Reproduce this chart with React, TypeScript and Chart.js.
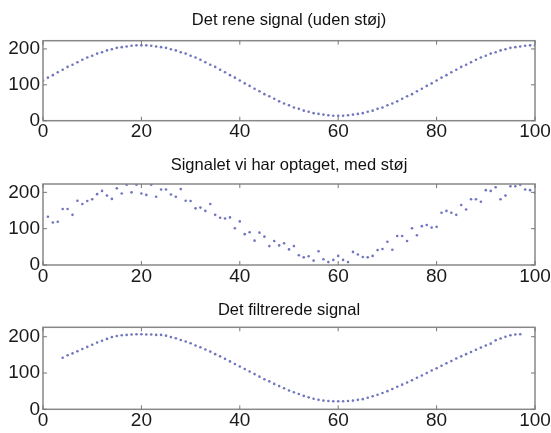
import React, { useEffect, useRef } from "react";
import { Chart, registerables } from "chart.js";

Chart.register(...registerables);

// ---------- data ----------
const xTicks = [0, 20, 40, 60, 80, 100];
const yTicks = [0, 100, 200];
const titles = [
  "Det rene signal (uden støj)",
  "Signalet vi har optaget, med støj",
  "Det filtrerede signal",
];
const yMax = [223, 223, 226];

const cleanStart = 0;
const clean = [
  112, 120, 127, 135, 142, 150, 156, 163, 170, 176, 181, 187, 191, 196, 199, 203, 205, 207, 209, 210, 210,
  210, 209, 207, 205, 203, 199, 196, 191, 187, 181, 176, 170, 163, 156, 150, 142, 135, 127, 120, 112,
  104, 97, 89, 82, 74, 68, 61, 54, 48, 43, 37, 33, 28, 25, 21, 19, 17, 15, 14, 14,
  14, 15, 17, 19, 21, 25, 28, 33, 37, 43, 48, 54, 61, 68, 74, 82, 89, 97, 104, 112,
  120, 127, 135, 142, 150, 156, 163, 170, 176, 181, 187, 191, 196, 199, 203, 205, 207, 209, 210, 210,
];

const noisyStart = 1;
const noisy = [
  133, 117, 119, 154, 154, 138, 177, 168, 176, 181,
  195, 204, 191, 182, 211, 197, 221, 200, 221, 197,
  193, 221, 188, 208, 208, 194, 188, 209, 177, 176,
  156, 158, 149, 168, 138, 130, 128, 131, 101, 120,
  85, 90, 67, 89, 78, 52, 66, 54, 60, 43,
  52, 27, 21, 24, 12, 38, 16, 8, 14, 25,
  14, 8, 36, 29, 22, 21, 25, 41, 44, 64,
  42, 80, 80, 66, 101, 82, 107, 110, 103, 105,
  144, 149, 144, 138, 165, 153, 181, 181, 174, 206,
  204, 214, 181, 191, 217, 217, 221, 208, 206, 199,
];

const filteredStart = 4;
const filtered = [
  142, 149, 154, 160, 166, 172, 178, 184, 189, 194, 199, 202, 204, 205, 206, 207, 207, 206, 206, 205,
  205, 203, 199, 196, 191, 187, 182, 176, 171, 165, 159, 152, 146, 139, 132, 125, 118, 111, 104, 97,
  90, 83, 77, 70, 64, 58, 52, 47, 42, 37, 33, 29, 26, 24, 23, 22, 22, 22, 23, 24,
  26, 28, 32, 36, 40, 45, 50, 56, 62, 68, 74, 80, 87, 93, 100, 107, 113, 120, 127, 133,
  140, 146, 152, 158, 164, 170, 176, 181, 190, 195, 200, 204, 206, 207,
];

const series = [
  { start: cleanStart, values: clean },
  { start: noisyStart, values: noisy },
  { start: filteredStart, values: filtered },
];

// ---------- layout (positions / styles only) ----------
const panels = [
  { top: 0, height: 145, titleCenter: 20, areaTop: 40.7, areaBottom: 120.7 },
  { top: 145, height: 145, titleCenter: 20, areaTop: 39, areaBottom: 120 },
  { top: 290, height: 143, titleCenter: 20, areaTop: 37.3, areaBottom: 119.3 },
];
const WIDTH = 551;
const AREA_LEFT = 43;
const AREA_RIGHT = 535;
const TITLE_SIZE = 16.5;
const TICK_SIZE = 19;
const FONT = "'Liberation Sans', Arial, sans-serif";
const POINT_COLOR = "rgba(55,65,165,0.72)";

const boxPlugin = {
  id: "matlabBox",
  afterDraw(chart: any) {
    const { ctx, chartArea: a, scales } = chart;
    ctx.save();
    ctx.strokeStyle = "#888888";
    ctx.lineWidth = 1.5;
    ctx.strokeRect(a.left, a.top, a.right - a.left, a.bottom - a.top);
    ctx.lineWidth = 1;
    ctx.strokeStyle = "#777777";
    const L = 4;
    ctx.beginPath();
    for (const v of xTicks) {
      const px = scales.x.getPixelForValue(v);
      ctx.moveTo(px, a.bottom);
      ctx.lineTo(px, a.bottom - L);
      ctx.moveTo(px, a.top);
      ctx.lineTo(px, a.top + L);
    }
    for (const v of yTicks) {
      const py = scales.y.getPixelForValue(v);
      ctx.moveTo(a.left, py);
      ctx.lineTo(a.left + L, py);
      ctx.moveTo(a.right, py);
      ctx.lineTo(a.right - L, py);
    }
    ctx.stroke();
    ctx.restore();
  },
};

function Panel({ index }: { index: number }) {
  const ref = useRef<HTMLCanvasElement | null>(null);
  const p = panels[index];
  useEffect(() => {
    if (!ref.current) return;
    const s = series[index];
    const data = s.values.map((v, i) => ({ x: s.start + i, y: v }));
    const lineH = TITLE_SIZE * 1.2;
    const padTop = p.titleCenter - lineH / 2;
    const padBottom = p.areaTop - padTop - lineH;
    const chart = new Chart(ref.current, {
      type: "scatter",
      data: {
        datasets: [
          {
            data,
            pointRadius: 1.3,
            pointBorderWidth: 0,
            pointBackgroundColor: POINT_COLOR,
            pointBorderColor: POINT_COLOR,
            showLine: false,
          },
        ],
      },
      options: {
        responsive: false,
        animation: false,
        layout: { padding: { left: 0, right: WIDTH - AREA_RIGHT, top: 0, bottom: 0 } },
        plugins: {
          legend: { display: false },
          tooltip: { enabled: false },
          title: {
            display: true,
            fullSize: false,
            text: titles[index],
            color: "#111",
            font: { family: FONT, size: TITLE_SIZE, weight: "normal", lineHeight: 1.2 },
            padding: { top: padTop, bottom: padBottom },
          },
        },
        scales: {
          x: {
            type: "linear",
            min: 0,
            max: 100,
            grid: { display: false, drawTicks: false },
            border: { display: false },
            afterBuildTicks: (scale: any) => {
              scale.ticks = xTicks.map((v) => ({ value: v }));
            },
            afterFit: (scale: any) => {
              scale.height = p.height - p.areaBottom;
            },
            ticks: {
              padding: 0,
              color: "#1a1a1a",
              maxRotation: 0,
              autoSkip: false,
              font: { family: FONT, size: TICK_SIZE },
            },
          },
          y: {
            type: "linear",
            min: 0,
            max: yMax[index],
            grid: { display: false, drawTicks: false },
            border: { display: false },
            afterBuildTicks: (scale: any) => {
              scale.ticks = yTicks.map((v) => ({ value: v }));
            },
            afterFit: (scale: any) => {
              scale.width = AREA_LEFT;
            },
            ticks: {
              padding: 3,
              color: "#1a1a1a",
              autoSkip: false,
              font: { family: FONT, size: TICK_SIZE },
            },
          },
        },
      },
      plugins: [boxPlugin],
    });
    return () => chart.destroy();
  }, [index]);
  return (
    <canvas
      ref={ref}
      width={WIDTH}
      height={p.height}
      style={{ position: "absolute", left: 0, top: p.top, width: WIDTH, height: p.height, display: "block" }}
    />
  );
}

export default function App() {
  return (
    <div
      style={{
        position: "fixed",
        left: 0,
        top: 0,
        width: WIDTH,
        height: 433,
        background: "#fff",
        overflow: "hidden",
      }}
    >
      {panels.map((_, i) => (
        <Panel key={i} index={i} />
      ))}
    </div>
  );
}
